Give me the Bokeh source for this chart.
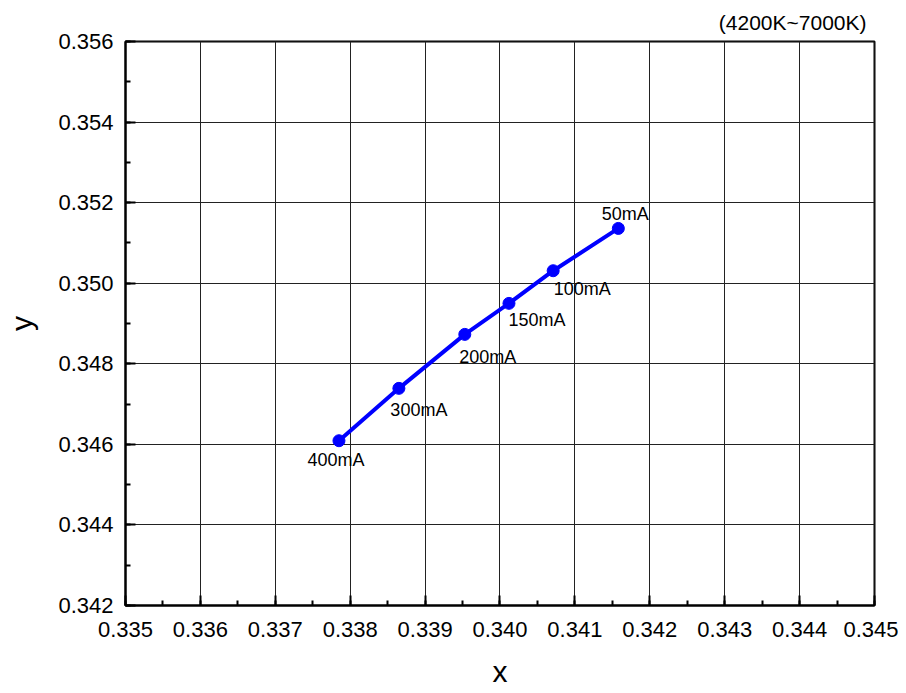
from bokeh.plotting import figure
from bokeh.models import SingleIntervalTicker, NumeralTickFormatter, ColumnDataSource, Range1d, Title
from bokeh.core.properties import value
from bokeh.embed import file_html
from bokeh.resources import INLINE

# data
currents = ["50mA", "100mA", "150mA", "200mA", "300mA", "400mA"]
cie_x = [0.34158, 0.34071, 0.34012, 0.33953, 0.33865, 0.33785]
cie_y = [0.35136, 0.35031, 0.34950, 0.34873, 0.34739, 0.34609]
label_dx = [7, 29, 28, 23, 20, -3]
label_dy = [-14, 18, 17, 23, 22, 19]
title_text = "(4200K~7000K)"

FONT = "Liberation Sans"

p = figure(width=898, height=690, output_backend="svg", toolbar_location=None,
           x_range=Range1d(0.335, 0.3450001), y_range=Range1d(0.342, 0.3560001),
           min_border_left=125, min_border_right=24, min_border_top=40, min_border_bottom=85)

t = Title(text=title_text, align="right", text_font=FONT, text_font_size="21px",
          text_font_style="normal", text_color="black", standoff=16, offset=8)
p.add_layout(t, "above")

p.outline_line_color = "black"
p.outline_line_width = 2
p.background_fill_color = "white"
p.border_fill_color = "white"

p.xaxis.ticker = SingleIntervalTicker(interval=0.001, num_minor_ticks=2)
p.yaxis.ticker = SingleIntervalTicker(interval=0.002, num_minor_ticks=2)
p.xaxis.formatter = NumeralTickFormatter(format="0.000")
p.yaxis.formatter = NumeralTickFormatter(format="0.000")

for ax in (p.xaxis, p.yaxis):
    ax.axis_line_color = "black"
    ax.axis_line_width = 2
    ax.major_tick_in = 10
    ax.major_tick_out = 0
    ax.minor_tick_in = 5
    ax.minor_tick_out = 0
    ax.major_tick_line_color = "black"
    ax.major_tick_line_width = 2
    ax.minor_tick_line_color = "black"
    ax.minor_tick_line_width = 2
    ax.major_label_text_font = FONT
    ax.major_label_text_font_size = "22px"
    ax.major_label_text_color = "black"
    ax.axis_label_text_font = FONT
    ax.axis_label_text_font_size = "30px"
    ax.axis_label_text_font_style = "normal"
    ax.axis_label_text_color = "black"

p.xaxis.major_label_standoff = 16
p.yaxis.major_label_standoff = 12
p.xaxis.axis_label = "x"
p.yaxis.axis_label = "y"
p.xaxis.axis_label_standoff = 15
p.yaxis.axis_label_standoff = 17

p.grid.grid_line_color = "#222222"
p.grid.grid_line_width = 1
p.xgrid.ticker = p.xaxis.ticker
p.ygrid.ticker = p.yaxis.ticker

src = ColumnDataSource(dict(x=cie_x, y=cie_y, lab=currents, dx=label_dx, dy=label_dy))
p.line("x", "y", source=src, line_color="#0000FF", line_width=4)
p.scatter("x", "y", source=src, size=12, fill_color="#0000FF", line_color="#0000FF")
p.text("x", "y", text="lab", source=src, x_offset="dx", y_offset="dy",
       text_font=value(FONT), text_font_size="18px", text_align="center",
       text_baseline="middle", text_color="black")

open("out.html", "w").write(file_html(p, INLINE))
